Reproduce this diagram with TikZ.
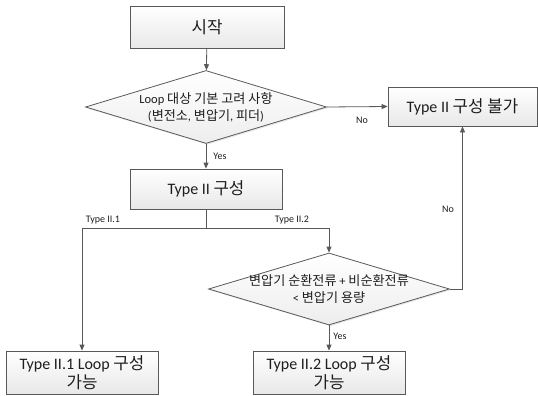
\documentclass[tikz,border=0pt]{standalone}
\usepackage{fontspec}
\setmainfont{Carlito}
\newfontfamily\kr[Scale=1.05]{Noto Sans CJK KR}
\usetikzlibrary{shapes.geometric,shadows,arrows.meta}
\definecolor{linec}{HTML}{595959}
\definecolor{txt}{HTML}{1E1E1E}
\begin{document}
\begin{tikzpicture}[x=1pt,y=-1pt,
  box/.style={draw=linec, line width=0.8pt, top color=white, bottom color=black!9,
    drop shadow={shadow xshift=1.3pt, shadow yshift=-1.3pt, opacity=0.22},
    inner sep=0pt, align=center, text=txt, font=\fontsize{16}{19.5}\selectfont},
  dia/.style={draw=linec, line width=0.8pt, diamond, top color=white, bottom color=black!7,
    drop shadow={shadow xshift=1.3pt, shadow yshift=-1.3pt, opacity=0.18},
    inner sep=0pt},
  dtext/.style={align=center, text=txt, inner sep=0pt, font=\fontsize{12.5}{17}\selectfont},
  lab/.style={text=txt, inner sep=1pt, font=\fontsize{10}{12}\selectfont},
  arr/.style={draw=linec, line width=0.8pt, -{Triangle[length=6pt,width=5pt]}},
  ln/.style={draw=linec, line width=0.8pt}]
\useasboundingbox (0,0) rectangle (538,396);
\node[box, minimum width=154pt, minimum height=42pt] (start) at (207,27) {{\kr 시작}};
\node[dia, minimum width=241pt, minimum height=73pt] (d1) at (206,107) {};
\node[dtext] (d1t) at (d1) {Loop {\kr 대상 기본 고려 사항}\\({\kr 변전소}, {\kr 변압기}, {\kr 피더})};
\node[box, minimum width=149pt, minimum height=39pt] (nogo) at (462.5,106.5) {Type II {\kr 구성 불가}};
\node[box, minimum width=152pt, minimum height=40pt] (t2) at (206,189) {Type II {\kr 구성}};
\node[dia, minimum width=241pt, minimum height=72pt] (d2) at (329,289) {};
\node[dtext] (d2t) at (d2) {{\kr 변압기 순환전류} + {\kr 비순환전류}\\< {\kr 변압기 용량}};
\node[box, minimum width=152pt, minimum height=43pt] (b1) at (82,372.5) {Type II.1 Loop {\kr 구성}\\{\kr 가능}};
\node[box, minimum width=152pt, minimum height=43pt] (b2) at (329,372.5) {Type II.2 Loop {\kr 구성}\\{\kr 가능}};
\coordinate (split) at (206,228);
\draw[arr] (start) -- (d1);
\draw[arr] (d1.east) -- (nogo.west);
\node[lab] (no1) at (362,120) {No};
\draw[arr] (d1.south) -- (t2.north);
\node[lab] (yes1) at (220,156) {Yes};
\draw[ln] (t2.south) -- (split);
\draw[arr] (split) -| (b1.north);
\draw[arr] (split) -| (d2.north);
\node[lab] (l1) at (103,220) {Type II.1};
\node[lab] (l2) at (292,220) {Type II.2};
\draw[arr] (d2.south) -- (b2.north);
\node[lab] (yes2) at (340,336) {Yes};
\draw[arr] (d2.east) -| (nogo.south);
\node[lab] (no2) at (448,209) {No};
\end{tikzpicture}
\end{document}
